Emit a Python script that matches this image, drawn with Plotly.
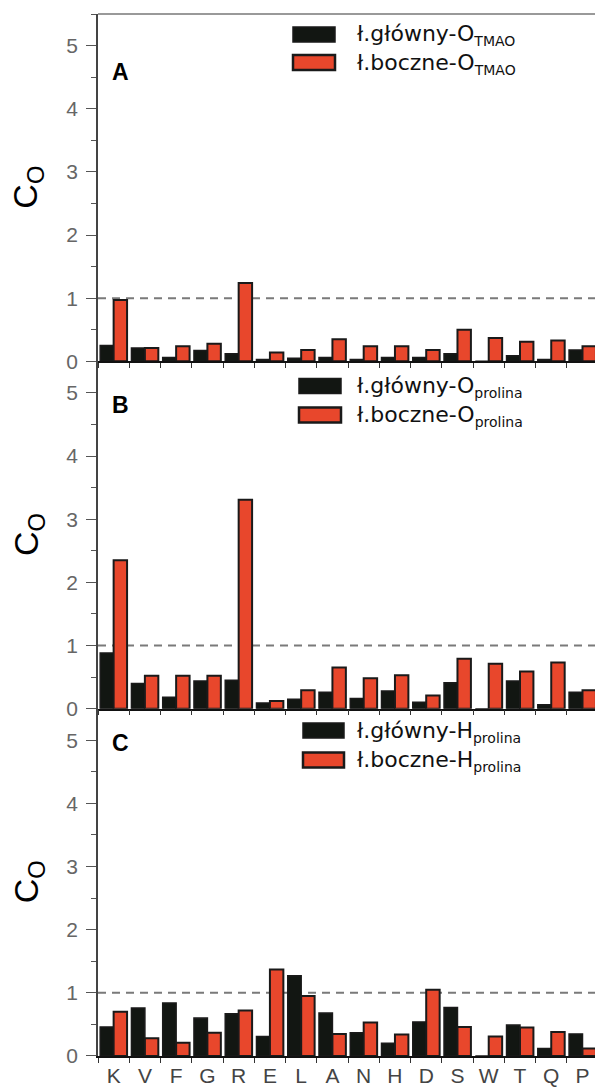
import plotly.graph_objects as go

categories = ["K", "V", "F", "G", "R", "E", "L", "A", "N", "H", "D", "S", "W", "T", "Q", "P"]

a_backbone = [0.25, 0.21, 0.06, 0.17, 0.12, 0.03, 0.05, 0.06, 0.03, 0.06, 0.06, 0.12, 0.0, 0.09, 0.03, 0.18]
a_side     = [0.97, 0.21, 0.24, 0.28, 1.24, 0.14, 0.18, 0.35, 0.24, 0.24, 0.18, 0.50, 0.37, 0.31, 0.33, 0.24]

b_backbone = [0.88, 0.40, 0.18, 0.44, 0.45, 0.09, 0.15, 0.26, 0.16, 0.28, 0.10, 0.41, 0.0, 0.44, 0.06, 0.26]
b_side     = [2.35, 0.52, 0.52, 0.52, 3.31, 0.12, 0.29, 0.65, 0.48, 0.53, 0.21, 0.79, 0.71, 0.59, 0.73, 0.29]

c_backbone = [0.46, 0.76, 0.84, 0.60, 0.67, 0.31, 1.27, 0.68, 0.37, 0.20, 0.54, 0.77, 0.0, 0.49, 0.12, 0.35]
c_side     = [0.70, 0.28, 0.21, 0.37, 0.72, 1.37, 0.95, 0.35, 0.53, 0.34, 1.05, 0.46, 0.31, 0.45, 0.38, 0.12]

panel_letters = ["A", "B", "C"]
legend_main = [("ł.główny-O", "ł.boczne-O"), ("ł.główny-O", "ł.boczne-O"), ("ł.główny-H", "ł.boczne-H")]
legend_sub = ["TMAO", "prolina", "prolina"]
y_title = "C<sub>O</sub>"
ref_line = 1.0

W, H = 595, 1087
ML, MR, MT, MB = 98, 0, 14, 31
PW = W - ML - MR
PH = H - MT - MB

def px2x(px):
    return (px - ML) / PW

def py2y(py):
    return (H - MB - py) / PH

BLACK = "#121612"
RED = "#e8472c"
EDGE = "#1a1a1a"

def leg_text(main, sub):
    return f"{main}<sub><span style='font-size:14px'>{sub}</span></sub>"

fig = go.Figure()
series = [(a_backbone, a_side), (b_backbone, b_side), (c_backbone, c_side)]
for i, (bb, sc) in enumerate(series):
    xa = "x" if i == 0 else f"x{i+1}"
    ya = "y" if i == 0 else f"y{i+1}"
    fig.add_trace(go.Bar(x=categories, y=bb, xaxis=xa, yaxis=ya,
                         name=legend_main[i][0] + legend_sub[i],
                         marker=dict(color=BLACK, line=dict(color=EDGE, width=1.5)), showlegend=False))
    fig.add_trace(go.Bar(x=categories, y=sc, xaxis=xa, yaxis=ya,
                         name=legend_main[i][1] + legend_sub[i],
                         marker=dict(color=RED, line=dict(color=EDGE, width=2)), showlegend=False))

domains = [[2/3, 1.0], [1/3, 2/3], [0.0, 1/3]]
layout = dict(
    width=W, height=H,
    margin=dict(l=ML, r=MR, t=MT, b=MB, pad=0),
    paper_bgcolor="white", plot_bgcolor="white",
    barmode="group", bargap=0.14, bargroupgap=0.0,
    showlegend=False,
    font=dict(family="Liberation Sans, Arial, sans-serif", color="#222"),
)
for i in range(3):
    xk = "xaxis" if i == 0 else f"xaxis{i+1}"
    yk = "yaxis" if i == 0 else f"yaxis{i+1}"
    ya = "y" if i == 0 else f"y{i+1}"
    xa = "x" if i == 0 else f"x{i+1}"
    layout[xk] = dict(
        anchor=ya, domain=[0, 1], type="category", categoryorder="array", categoryarray=categories,
        range=[-0.5, 15.4], showline=True, linecolor="#111", linewidth=1.5,
        ticks="outside", tickson="boundaries", ticklen=5, tickwidth=1.2, tickcolor="#333",
        showticklabels=(i == 2), tickfont=dict(size=21, color="#444", family="Liberation Sans, Arial"),
        showgrid=False, zeroline=False, automargin=False,
    )
    if i > 0:
        layout[xk]["matches"] = "x"
    layout[yk] = dict(
        anchor=xa, domain=domains[i], range=[0, 5.5],
        tickmode="linear", tick0=0, dtick=1,
        ticks="outside", ticklen=10, tickwidth=1.2, tickcolor="#555",
        minor=dict(ticks="outside", dtick=0.5, ticklen=5, tickwidth=1.2, tickcolor="#555"),
        showline=True, linecolor="#444", linewidth=1.5,
        tickfont=dict(size=21, color="#666", family="Liberation Sans, Arial"),
        ticklabelstandoff=4,
        showgrid=False, zeroline=False, automargin=False,
    )
fig.update_layout(**layout)

shapes = []
annotations = []
# top frame line
shapes.append(dict(type="line", xref="paper", yref="paper", x0=0, x1=1, y0=1, y1=1,
                   line=dict(color="#999", width=2)))
for i in range(3):
    xd = "x domain" if i == 0 else f"x{i+1} domain"
    ya = "y" if i == 0 else f"y{i+1}"
    shapes.append(dict(type="line", xref=xd, yref=ya, x0=0, x1=1, y0=ref_line, y1=ref_line,
                       line=dict(color="#7a7a7a", width=2, dash="8px,6px"), layer="below"))

# legends (drawn manually)
legend_px = [
    dict(sw=(293, 335), rows=(34.5, 62.5), tx=355),
    dict(sw=(299, 341), rows=(386, 415), tx=355),
    dict(sw=(303, 344), rows=(730.5, 760), tx=355),
]
for i, lp in enumerate(legend_px):
    for j, (col, lw) in enumerate([(BLACK, 1.5), (RED, 2.5)]):
        yc = lp["rows"][j]
        shapes.append(dict(type="rect", xref="paper", yref="paper",
                           x0=px2x(lp["sw"][0]), x1=px2x(lp["sw"][1]),
                           y0=py2y(yc + 7.5), y1=py2y(yc - 7.5),
                           fillcolor=col, line=dict(color=EDGE, width=lw)))
        annotations.append(dict(xref="paper", yref="paper", x=px2x(lp["tx"]), y=py2y(yc + 1),
                                xanchor="left", yanchor="middle", showarrow=False,
                                text=leg_text(legend_main[i][j], legend_sub[i]),
                                font=dict(family="DejaVu Sans", size=22, color="#111")))

# panel letters
letter_py = [72, 405, 743]
for i, L in enumerate(panel_letters):
    annotations.append(dict(xref="paper", yref="paper", x=px2x(110), y=py2y(letter_py[i]),
                            xanchor="left", yanchor="middle", showarrow=False,
                            text=f"<b>{L}</b>",
                            font=dict(family="Liberation Sans, Arial", size=23, color="#000")))

# y titles
for i in range(3):
    yc = (domains[i][0] + domains[i][1]) / 2
    annotations.append(dict(xref="paper", yref="paper", x=px2x(28), y=yc,
                            xanchor="center", yanchor="middle", showarrow=False, textangle=-90,
                            text=y_title,
                            font=dict(family="Liberation Sans, Arial", size=34, color="#000")))

fig.update_layout(shapes=shapes, annotations=annotations)
fig.write_html("out.html", config={"displayModeBar": False},
               post_script="document.body.style.margin='0';document.body.style.padding='0';")
